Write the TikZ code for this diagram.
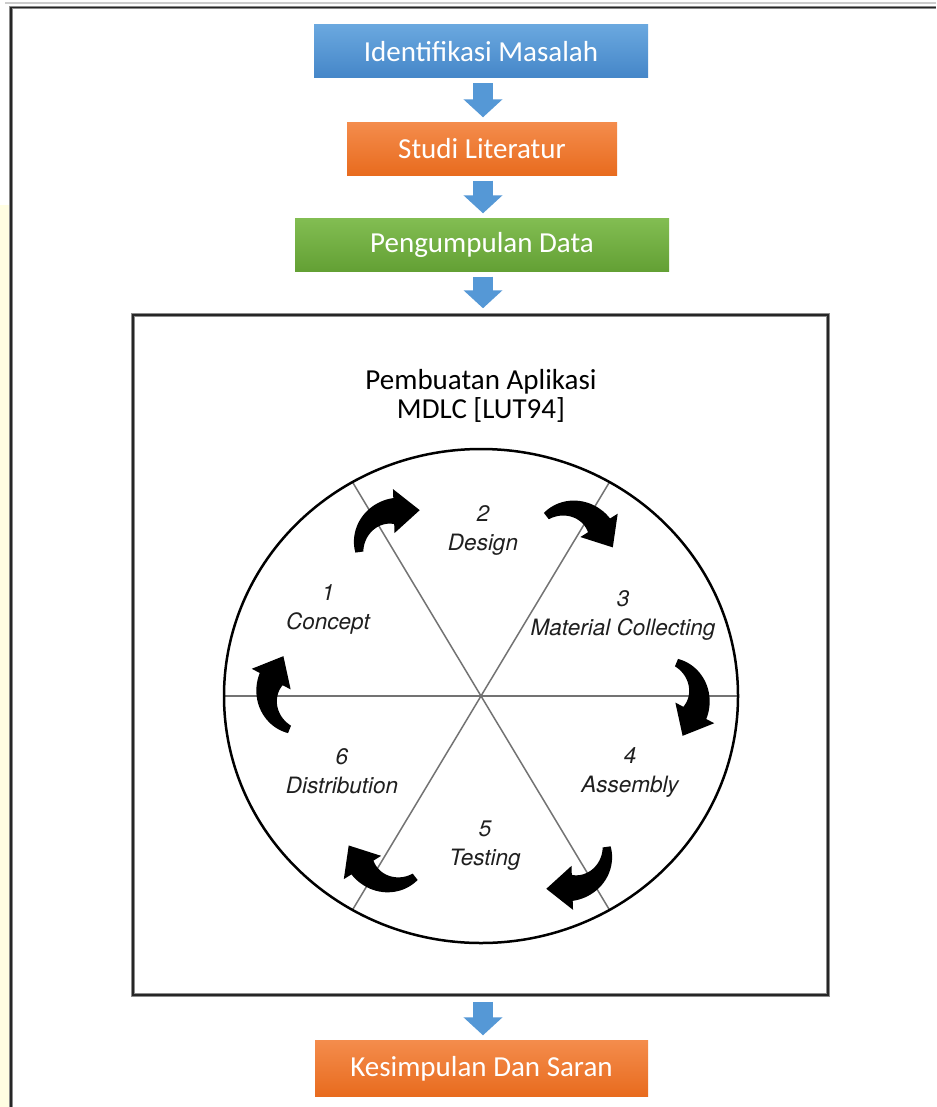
\documentclass[tikz,border=0pt]{standalone}
\usepackage{fontspec}
\setmainfont{Carlito}
\newfontfamily\helvfont{TeX Gyre Heros}
\usetikzlibrary{arrows.meta,calc}

\definecolor{blueA}{HTML}{6AA8DF}
\definecolor{blueB}{HTML}{4586C8}
\definecolor{orangeA}{HTML}{F48C4C}
\definecolor{orangeB}{HTML}{E86B1E}
\definecolor{greenA}{HTML}{82BD52}
\definecolor{greenB}{HTML}{63A034}
\definecolor{arrowblue}{HTML}{5598D6}
\definecolor{paleyellow}{HTML}{FFFDE2}

\begin{document}
\begin{tikzpicture}[x=1pt,y=1pt,
  stepbox/.style={minimum height=53pt,inner sep=0pt,text=white,
    font=\fontsize{29}{34}\selectfont},
  flowarrow/.style={arrowblue,line width=20pt,shorten <=5pt,shorten >=5pt,
    -{Triangle[width=38pt,length=18pt]}},
  phase/.style={align=center,text=black!88,
    font=\helvfont\itshape\fontsize{22.5}{29}\selectfont},
  spoke/.style={black!55,line width=1.5pt}]

  \fill[white] (0,0) rectangle (936,-1107);
  \useasboundingbox (0,0) rectangle (936,-1107);

  % page frame
  \fill[paleyellow] (0,-205) rectangle (9,-1107);
  \draw[black!20,line width=1.5pt] (5,-3) -- (936,-3);
  \draw[black!45,line width=3.5pt] (11,-1107) -- (11,-7.5) -- (936,-7.5);
  \draw[black!85,line width=1.5pt] (11,-1107) -- (11,-7.5) -- (936,-7.5);

  % flow boxes
  \node[stepbox,minimum width=334pt,top color=blueA,bottom color=blueB]
    (idm) at (481,-51.5) {Identifikasi Masalah};
  \node[stepbox,minimum width=270pt,top color=orangeA,bottom color=orangeB]
    (stl) at (482,-149) {Studi Literatur};
  \node[stepbox,minimum width=374pt,top color=greenA,bottom color=greenB]
    (pgd) at (482,-245) {Pengumpulan Data};
  \node[draw=black!45,line width=3.5pt,minimum width=695pt,minimum height=680pt,
    inner sep=0pt] (mdlc) at (480.5,-655) {};
  \node[draw=black!85,line width=1.5pt,minimum width=695pt,minimum height=680pt,
    inner sep=0pt] at (mdlc) {};
  \node[stepbox,minimum width=333pt,minimum height=56pt,top color=orangeA,
    bottom color=orangeB] (kds) at (481.5,-1068.5) {Kesimpulan Dan Saran};

  \draw[flowarrow] (idm.south -| 483,0) -- (stl.north -| 483,0);
  \draw[flowarrow] (stl.south -| 483,0) -- (pgd.north -| 483,0);
  \draw[flowarrow] (pgd.south -| 483,0) -- (mdlc.north -| 483,0);
  \draw[flowarrow] (mdlc.south -| 483,0) -- (kds.north -| 483,0);

  \node[align=center,font=\fontsize{29}{29}\selectfont] (ttl) at (481,-396)
    {Pembuatan Aplikasi\\MDLC [LUT94]};

  % MDLC wheel
  \coordinate (C) at (481,-696);
  \draw[spoke] ($(C)+(0:257 and 247)$) -- ($(C)+(180:257 and 247)$);
  \draw[spoke] ($(C)+(60:257 and 247)$) -- ($(C)+(240:257 and 247)$);
  \draw[spoke] ($(C)+(120:257 and 247)$) -- ($(C)+(300:257 and 247)$);
  \draw[black,line width=2.5pt] (C) ellipse (257 and 247);

  \foreach \a/\d in {120/172,60/175,0/182,-60/180,-120/176,180/178}{
    \begin{scope}[shift={(C)},rotate=\a,shift={(\d,0)}]
      \fill plot[domain=68:-28,samples=25] (\x:{36+4+9*(68-\x)/96})
        -- (-28:58) -- (-63.8:44.4) -- (-28:14)
        -- plot[domain=-28:68,samples=25] (\x:{36-4-9*(68-\x)/96}) -- cycle;
    \end{scope}}

  \node[phase] (p1) at (328,-609) {1\\Concept};
  \node[phase] (p2) at (483,-530) {2\\Design};
  \node[phase] (p3) at (623,-615) {3\\Material Collecting};
  \node[phase] (p4) at (630,-772) {4\\Assembly};
  \node[phase] (p5) at (485,-846) {5\\Testing};
  \node[phase] (p6) at (342,-771) {6\\Distribution};

\end{tikzpicture}
\end{document}
